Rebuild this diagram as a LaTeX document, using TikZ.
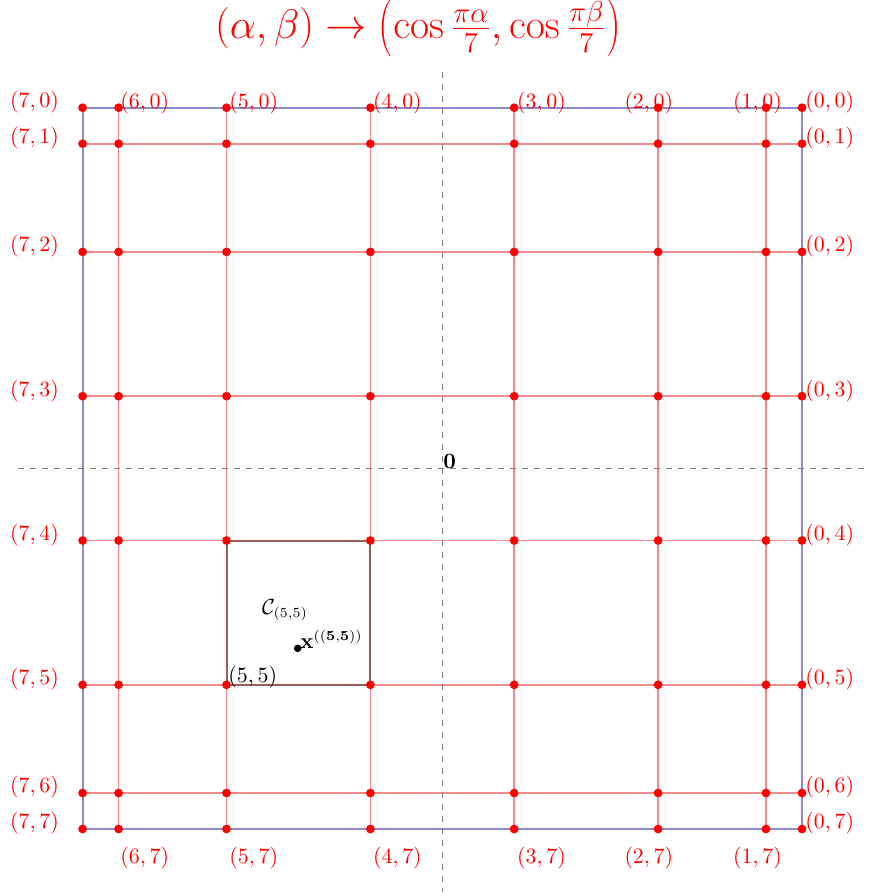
\documentclass[tikz,border=0pt]{standalone}
\newcommand{\tallopen}{\mathopen{\vcenter{\hbox{\scalebox{1}[1.38]{$($}}}}}
\newcommand{\tallclose}{\mathclose{\vcenter{\hbox{\scalebox{1}[1.38]{$)$}}}}}
\begin{document}
\begin{tikzpicture}[x=0.5pt,y=-0.5pt,
  gridline/.style={draw={rgb,255:red,242;green,140;blue,140},line width=0.85pt},
  frameline/.style={draw={rgb,255:red,140;green,140;blue,205},line width=1pt},
  axisline/.style={draw=gray,dashed,line width=0.6pt},
  cellline/.style={draw={rgb,255:red,150;green,95;blue,95},line width=1pt},
  dot/.style={circle,fill=red,inner sep=0pt,minimum size=4.4pt},
  bdot/.style={circle,fill=black,inner sep=0pt,minimum size=3.8pt},
  lab/.style={text=red,inner sep=0pt,font=\fontsize{10.6}{12}\selectfont},
  blab/.style={text=black,inner sep=0pt,font=\fontsize{10.6}{12}\selectfont}]
\useasboundingbox (0,0) rectangle (870,896);
% grid coordinates
\foreach \a/\x in {0/802,1/766,2/658.1,3/514.2,4/370.4,5/226.5,6/118.6,7/82.6}{
  \foreach \b/\y in {0/107.7,1/143.7,2/251.9,3/396.2,4/540.5,5/684.8,6/793,7/829}{
    \coordinate (c\a\b) at (\x,\y);
  }
}
% red grid lines
\foreach \b in {1,...,6}{ \draw[gridline] (c7\b) -- (c0\b); }
\foreach \a in {1,...,6}{ \draw[gridline] (c\a0) -- (c\a7); }
% blue frame
\draw[frameline] (c70) -- (c00) -- (c07) -- (c77) -- cycle;
% cell
\draw[cellline] (c54) -- (c44) -- (c45) -- (c55) -- cycle;
% axes
\coordinate (axL) at (18,468.3);
\coordinate (axR) at (870,468.3);
\coordinate (axT) at (442.3,72);
\coordinate (axB) at (442.3,892);
\draw[axisline] (axL) -- (axR);
\draw[axisline] (axT) -- (axB);
% dots
\foreach \a in {0,...,7}{
  \foreach \b in {0,...,7}{
    \node[dot] (p\a\b) at (c\a\b) {};
  }
}
% left and right labels
\foreach \b in {0,...,7}{
  \node[lab,anchor=east,xshift=-11.65pt,yshift=2.75pt] (lw\b) at (c7\b) {$(7,\b)$};
  \node[lab,anchor=west,xshift=1.5pt,yshift=2.75pt] (le\b) at (c0\b) {$(0,\b)$};
}
% top and bottom labels
\foreach \a/\dx in {6/0.7,5/1.25,4/1.15,3/1.25}{
  \node[lab,anchor=west,xshift=\dx pt,yshift=2.5pt] (lt\a) at (c\a0) {$(\a,0)$};
  \node[lab,anchor=west,xshift=\dx pt,yshift=-14.75pt] (lb\a) at (c\a7) {$(\a,7)$};
}
\foreach \a/\dx in {2/-17,1/-16.65}{
  \node[lab,anchor=west,xshift=\dx pt,yshift=2.5pt] (lt\a) at (c\a0) {$(\a,0)$};
  \node[lab,anchor=west,xshift=\dx pt,yshift=-14.75pt] (lb\a) at (c\a7) {$(\a,7)$};
}
% origin label
\node[blab,anchor=base west] (origin) at (443,468.3) {$\mathbf{0}$};
% cell labels
\node[blab,anchor=base west] (cname) at (261.7,614) {$\mathcal{C}_{(5,5)}$};
\node[bdot] (xpt) at (297.7,648.3) {};
\node[blab,anchor=base west] (xlab) at (300,648) {$\mathbf{x}^{((\mathbf{5},\mathbf{5}))}$};
\node[blab,anchor=west] (c55lab) at (228,676.7) {$(5,5)$};
% title
\node[text=red,inner sep=0pt,anchor=base,font=\fontsize{19.2}{23}\selectfont] (title) at (418,38.5)
  {$(\alpha,\beta)\rightarrow\tallopen\cos\frac{\pi\alpha}{7},\cos\frac{\pi\beta}{7}\tallclose$};
\end{tikzpicture}
\end{document}
